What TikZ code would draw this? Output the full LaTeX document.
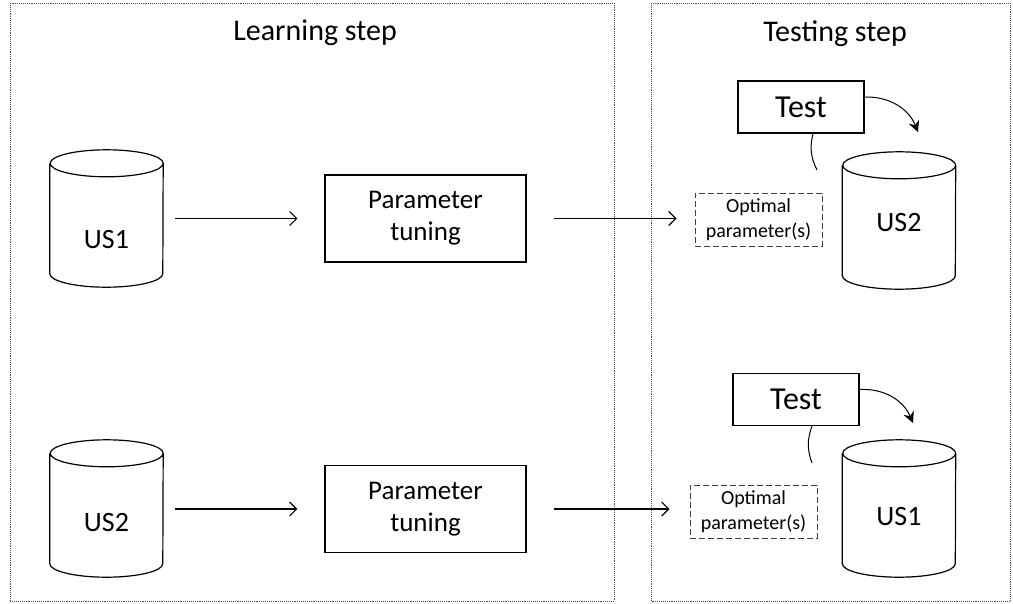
\documentclass[tikz,border=0pt]{standalone}
\usepackage{fontspec}
\setmainfont{Carlito}
\usetikzlibrary{arrows.meta,positioning}

\tikzset{
  frame/.style={draw=black!70, densely dotted, line width=0.9pt},
  steptitle/.style={font=\fontsize{30}{32}\selectfont},
  db/.style={minimum width=113pt, minimum height=137pt, inner sep=0pt},
  dbline/.style={line width=1.2pt},
  dbname/.style={font=\fontsize{28}{30}\selectfont},
  tuning/.style={draw, line width=1.1pt, minimum width=201pt, minimum height=87pt,
    align=center, font=\fontsize{27}{32}\selectfont},
  testbox/.style={draw, line width=1.1pt, minimum width=126pt, minimum height=52pt,
    font=\fontsize{32}{34}\selectfont},
  optbox/.style={draw=black!75, dash pattern=on 6pt off 3pt, line width=1pt, minimum width=127pt,
    minimum height=53pt, align=center, font=\fontsize{20}{25}\selectfont},
  flow/.style={-{Straight Barb[length=7pt,width=14pt]}, line width=1.2pt},
  bendarrow/.style={-{Stealth[length=11pt,width=11pt]}, line width=1pt},
}
% cylinder outline round a named node
\def\drawdb#1{\draw[dbline] ([yshift=-13.5pt]#1.north west) -- ([yshift=13.5pt]#1.south west)
  arc[start angle=180, end angle=360, x radius=56.5pt, y radius=13.5pt]
  -- ([yshift=-13.5pt]#1.north east)
  arc[start angle=0, end angle=360, x radius=56.5pt, y radius=13.5pt];}

\begin{document}
\begin{tikzpicture}[x=1pt, y=-1pt]
			%%%%% START %%%%%
			\useasboundingbox (0,0) rectangle (1013,603);
			
			\draw[frame] (10,3) rectangle (614,601);
			\draw[frame] (651,3) rectangle (1010,601);
			\node[steptitle] (learntitle) at (315,33) {Learning step};
			\node[steptitle] (testtitle) at (835,34) {Testing step};
			
			% learning step
			\node[db, label={[dbname, yshift=-21pt]center:US1}] (us1L) at (106.5,218.5) {};
			\node[db, label={[dbname, yshift=-14pt]center:US2}] (us2L) at (106.5,508.5) {};
			\drawdb{us1L}
			\drawdb{us2L}
			\node[tuning] (tune1) at (425.5,218.5) {Parameter\\tuning};
			\node[tuning] (tune2) at (425.5,509) {Parameter\\tuning};
			
			% testing step
			\node[testbox] (test1) at (801,107) {Test};
			\node[optbox] (opt1) at (758.5,219.5) {Optimal\\parameter(s)};
			\node[db, label={[dbname, yshift=-2pt]center:US2}] (us2R) at (899,220.5) {};
			\drawdb{us2R}
			
			\node[testbox] (test2) at (796,399.5) {Test};
			\node[optbox] (opt2) at (753.5,511.5) {Optimal\\parameter(s)};
			\node[db, label={[dbname, yshift=-8pt]center:US1}] (us1R) at (899,508.5) {};
			\drawdb{us1R}
			
			\coordinate (link1) at (817,170);
			\coordinate (drop1) at (918,132);
			\coordinate (link2) at (812,463);
			\coordinate (drop2) at (913,423);
			
			\draw[flow, shorten <=12pt, shorten >=27pt] (us1L.east |- tune1) -- (tune1.west);
			\draw[flow, shorten <=12pt, shorten >=27pt] (us2L.east |- tune2) -- (tune2.west);
			\draw[flow, shorten <=27pt, shorten >=18pt] (tune1.east) -- (opt1.west |- tune1);
			\draw[flow, shorten <=27pt, shorten >=20pt] (tune2.east) -- (opt2.west |- tune2);
			
			\draw[line width=1pt] ([xshift=12pt]test1.south) to[bend right=20] (link1);
			\draw[line width=1pt] ([xshift=16pt]test2.south) to[bend right=20] (link2);
			\draw[bendarrow] ([yshift=10pt]test1.east) to[bend left=35] (drop1);
			\draw[bendarrow] ([yshift=10pt]test2.east) to[bend left=35] (drop2);
			%%%%% END %%%%%
\end{tikzpicture}
\end{document}
